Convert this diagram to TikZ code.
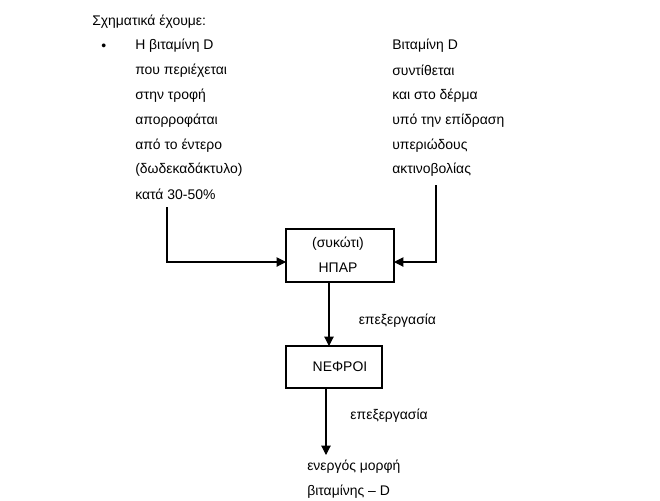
\documentclass[tikz,border=0pt]{standalone}
\usepackage{fontspec}
\setmainfont{Liberation Sans}
\usetikzlibrary{arrows.meta}
\tikzset{txt/.style={anchor=west, inner sep=0pt, font=\fontsize{10.5}{12}\selectfont},
  organ/.style={draw, line width=0.8pt, inner sep=0pt},
  flow/.style={line width=0.8pt, -{Triangle[length=7pt,width=7pt]}}}
\begin{document}
\begin{tikzpicture}[x=0.0264583cm, y=-0.0264583cm]
  \useasboundingbox (0,0) rectangle (660,500);
  \node[txt] (title) at (92,22) {Σχηματικά έχουμε:};
  \node[txt] (dot) at (101,47) {•};
  % diet source
  \foreach \t [count=\i] in {Η βιταμίνη D, που περιέχεται, στην τροφή, απορροφάται, από το έντερο, (δωδεκαδάκτυλο), κατά 30-50\%}
    \node[txt] (L\i) at (135,{46+24.8*(\i-1)}) {\t};
  % skin source
  \foreach \t [count=\i] in {Βιταμίνη D, συντίθεται, και στο δέρμα, υπό την επίδραση, υπεριώδους, ακτινοβολίας}
    \node[txt] (R\i) at (392,{46+24.8*(\i-1)}) {\t};
  \draw[organ] (286,229) rectangle (394,282);
  \node[txt, anchor=center] (liver1) at (338,244) {(συκώτι)};
  \node[txt, anchor=center] (liver2) at (338,268) {ΗΠΑΡ};
  \coordinate (hpW) at (286,262);
  \coordinate (hpE) at (394,262);
  \coordinate (hpS) at (329,282);
  \draw[organ] (286,346) rectangle (382,388);
  \node[txt, anchor=center] (kidney) at (340,367) {ΝΕΦΡΟΙ};
  \coordinate (neN) at (329,346);
  \coordinate (neS) at (326,388);
  \coordinate (lTop) at (167,207);
  \coordinate (rTop) at (436,185);
  \coordinate (outN) at (326,455);
  \draw[flow] (lTop) |- (hpW);
  \draw[flow] (rTop) |- (hpE);
  \draw[flow] (hpS) -- (neN) node[pos=0.6, txt, anchor=west, xshift=22pt] (p1) {επεξεργασία};
  \draw[flow] (neS) -- (outN) node[pos=0.42, txt, anchor=west, xshift=18pt] (p2) {επεξεργασία};
  \node[txt] (out1) at (307,467) {ενεργός μορφή};
  \node[txt] (out2) at (307,492) {βιταμίνης – D};
\end{tikzpicture}
\end{document}
